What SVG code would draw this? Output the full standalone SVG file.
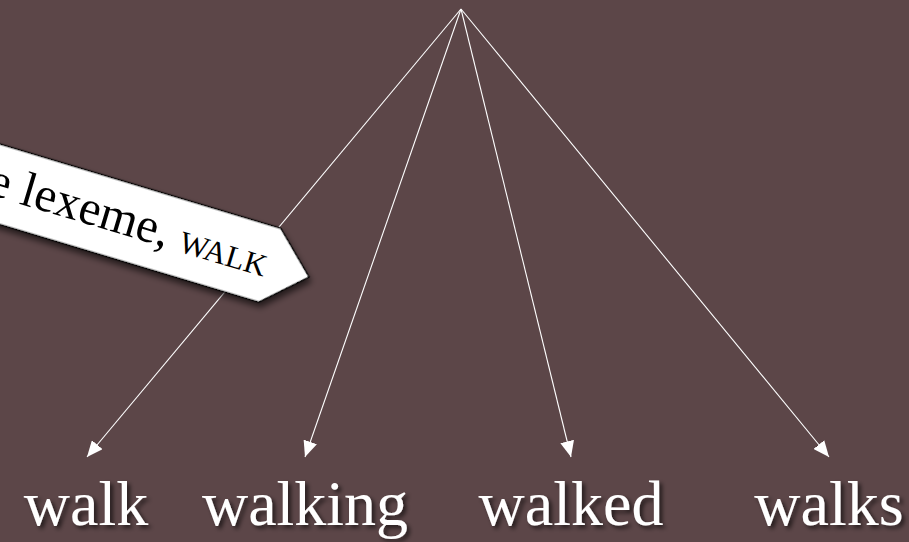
<svg xmlns="http://www.w3.org/2000/svg" width="909" height="542" viewBox="0 0 909 542">
<defs>
<style>
.edge{stroke:#ffffff;stroke-width:1.1;fill:none;marker-end:url(#arr)}
.word{font-family:"Liberation Serif","DejaVu Serif",serif;font-size:64px;fill:#ffffff;text-anchor:middle;filter:url(#tshadow)}
.lbl{font-family:"Liberation Serif","DejaVu Serif",serif;font-size:49px;fill:#000000}
</style>
<marker id="arr" viewBox="0 0 16 14" refX="16" refY="7" markerWidth="16" markerHeight="14" markerUnits="userSpaceOnUse" orient="auto">
<path d="M0,0 L16,7 L0,14 Z" fill="#ffffff"/>
</marker>
<filter id="tshadow" x="-20%" y="-20%" width="140%" height="140%">
<feDropShadow dx="3" dy="3" stdDeviation="2" flood-color="#000000" flood-opacity="0.6"/>
</filter>
<filter id="bshadow" x="-20%" y="-30%" width="140%" height="160%">
<feDropShadow dx="3" dy="4" stdDeviation="3" flood-color="#000000" flood-opacity="0.6"/>
</filter>
</defs>
<rect width="909" height="542" fill="#5c4648"/>
<g id="connectors">
<line class="edge" x1="461" y1="9" x2="87" y2="457"/>
<line class="edge" x1="461" y1="9" x2="305" y2="457"/>
<line class="edge" x1="461" y1="9" x2="571" y2="457"/>
<line class="edge" x1="461" y1="9" x2="829" y2="457"/>
</g>
<g id="banner" transform="translate(309,277) rotate(16.7)">
<polygon points="-41,-38.5 0,0 -41,38.5 -500,38.5 -500,-38.5" fill="#ffffff" stroke="#000000" stroke-width="1.5" filter="url(#bshadow)"/>
<text class="lbl" x="-44" y="13" text-anchor="end">e lexeme, <tspan font-size="31">WALK</tspan></text>
</g>
<g id="walk"><text class="word" x="86" y="525">walk</text></g>
<g id="walking"><text class="word" x="305" y="525">walking</text></g>
<g id="walked"><text class="word" x="571" y="525">walked</text></g>
<g id="walks"><text class="word" x="829" y="525">walks</text></g>
</svg>
